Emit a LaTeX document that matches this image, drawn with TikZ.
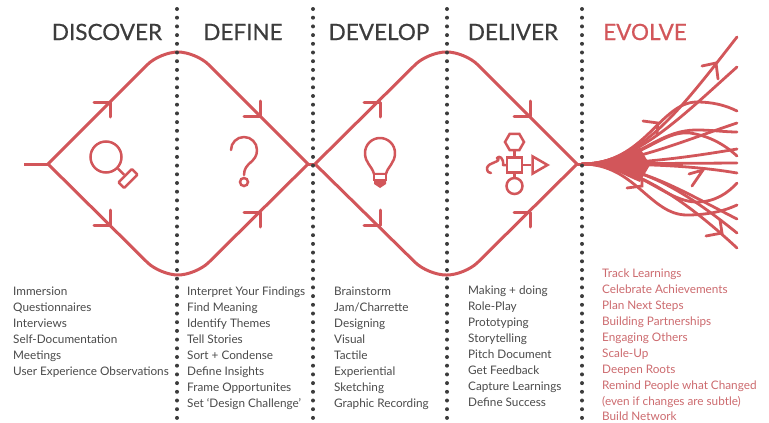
\documentclass[tikz,border=0pt]{standalone}
\usepackage{fontspec}
\setmainfont{Lato}
\newfontfamily\stagefont[FakeBold=0.5]{Lato}
\usepackage{tikz}
\usetikzlibrary{shapes.geometric}
\definecolor{flowred}{HTML}{D2565A}
\definecolor{listred}{HTML}{CC6A6E}
\definecolor{inkdark}{HTML}{3C3C3C}
\definecolor{inklist}{HTML}{4A4A4A}

\begin{document}
\begin{tikzpicture}
[x=1pt,y=-1pt]
\tikzset{
	flow/.style = {draw=flowred, line width=3pt, line join=round},
	icon/.style = {draw=flowred, line width=2.5pt, inner sep=0pt, fill=white},
	branch/.style = {draw=flowred, line width=2.8pt, line cap=round},
	divider/.style = {draw=inkdark, line width=4pt, line cap=round, dash pattern=on 0pt off 8.7pt},
	stage/.style = {text=inkdark, font=\stagefont\fontsize{22.5}{26}\selectfont},
	tasks/.style = {anchor=north west, align=left, inner sep=0pt, text=inklist, font=\fontsize{11.75}{15.9}\selectfont}
}
\useasboundingbox (0,0) rectangle (769,423);

% diamonds
\coordinate (start) at (24,164);
\coordinate (a) at (48,164);
\coordinate (b) at (308,164);
\coordinate (c) at (315,164);
\coordinate (d) at (577,164);
\coordinate (root) at (592,164);
\draw [flow] (start) -- (a);
\draw [flow] (b) -- (c);
\draw [flow] (d) -- (root);
\draw [flow, rounded corners=18pt] (a) -- (160,52) -- (196,52) -- (b);
\draw [flow, rounded corners=18pt] (a) -- (160,275) -- (196,275) -- (b);
\draw [flow, rounded corners=18pt] (c) -- (428,52) -- (465,52) -- (d);
\draw [flow, rounded corners=18pt] (c) -- (428,275) -- (465,275) -- (d);

% arrow heads on the diamonds and the fan
\foreach \x/\y/\h in {110/102/15, 260/116/-15, 110/225/-15, 260/212/15, 380/102/15, 530/116/-15, 380/225/-15, 530/212/15}
	\draw [flow, line cap=round] (\x-16,\y) -- (\x,\y) -- (\x,\y+\h);
\draw [branch] (702,66) -- (716,63) -- (718,79);
\draw [branch] (643,121) -- (658,123) -- (657,135);
\draw [branch] (627,188) -- (642,186) -- (642,180);
\draw [branch] (689,174) -- (703,170) -- (692,186);
\draw [branch] (706,236) -- (722,233) -- (720,220);

% fan
\coordinate (fan) at (582,164);
\fill [flowred] (590,163) .. controls (610,162) and (625,152) .. (640,148) -- (650,165) -- (640,182) .. controls (625,176) and (610,166) .. (590,165) -- cycle;
\draw [branch] (fan) .. controls (640,164) and (680,110) .. (737,37);
\draw [branch] (fan) .. controls (635,164) and (680,118) .. (737,67);
\draw [branch] (fan) .. controls (645,164) and (660,102) .. (697,102) .. controls (712,102) and (725,105) .. (737,111);
\draw [branch] (fan) .. controls (630,164) and (680,142) .. (737,123);
\draw [branch] (fan) .. controls (640,164) and (655,130) .. (697,130) .. controls (712,130) and (725,132) .. (737,132);
\draw [branch] (fan) .. controls (640,164) and (690,157) .. (737,149);
\draw [branch] (fan) .. controls (640,164) and (660,130) .. (690,133) .. controls (710,136) and (725,145) .. (737,156);
\draw [branch] (fan) -- (737,163);
\draw [branch] (fan) .. controls (640,164) and (690,165) .. (737,173);
\draw [branch] (fan) .. controls (640,164) and (665,202) .. (697,202) .. controls (715,202) and (728,193) .. (737,183);
\draw [branch] (fan) .. controls (635,164) and (650,215) .. (687,215) .. controls (705,215) and (722,212) .. (737,205);
\draw [branch] (fan) .. controls (640,164) and (680,190) .. (737,219);
\draw [branch] (fan) .. controls (635,164) and (675,183) .. (737,233);
\draw [branch] (fan) .. controls (630,164) and (680,195) .. (737,248);

% dotted dividers
\foreach \x in {177,313,447,582}
	\draw [divider] (\x,9) -- (\x,420);

% magnifier
\node (lens) [icon, circle, minimum size=31pt] at (106,157) {};
\node (grip) [icon, rectangle, rounded corners=1pt, minimum width=19pt, minimum height=8pt, rotate=45] at (128,178.5) {};
\draw [flow, line width=2.5pt] (lens) -- (grip);

% question mark
\node (dot) [icon, circle, minimum size=8pt] at (244,182) {};
\draw [flow, line width=2.5pt, line cap=round] (231,150) arc (-180:0:13) .. controls (257,163) and (244,162) .. (244,175);

% bulb
\draw [flow, line width=2.5pt] (374,174) .. controls (372,166) and (365,163) .. (365,153) arc (-180:0:15) .. controls (395,163) and (388,166) .. (386,174) -- cycle;
\node (socket) [icon, rectangle, minimum width=12pt, minimum height=6pt] at (380,177) {};
\fill [flowred] (374,180) -- (386,180) -- (386,184) -- (380,188) -- (374,184) -- cycle;

% process symbols
\node (box) [icon, rectangle, minimum size=15pt] at (514.5,165) {};
\node (hex) [icon, regular polygon, regular polygon sides=6, minimum size=19pt] at (514.5,142) {};
\node (disc) [icon, circle, minimum size=16pt] at (514.5,186) {};
\node (tri) [icon, regular polygon, regular polygon sides=3, shape border rotate=-90, minimum size=20pt] at (537.5,165) {};
\draw [flow, line width=2.5pt] (box) -- (hex);
\draw [flow, line width=2.5pt] (box) -- (disc);
\draw [flow, line width=2.5pt] (box) -- (tri);
\draw [flow, line width=2.5pt, line cap=round] (box.west) -- (503,165) .. controls (504,158) and (499,155) .. (497,158) .. controls (503,162) and (488,162) .. (487,168) .. controls (487,172) and (489,173) .. (491,173);

% headings
\node (discover) [stage] at (107,32) {DISCOVER};
\node (define) [stage] at (243,32) {DEFINE};
\node (develop) [stage] at (379,32) {DEVELOP};
\node (deliver) [stage] at (513,32) {DELIVER};
\node (evolve) [stage, text=flowred] at (645,32) {EVOLVE};

% lists
\node (list1) [tasks] at (13,287) {Immersion\\Questionnaires\\Interviews\\Self-Documentation\\Meetings\\User Experience Observations};
\node (list2) [tasks] at (187,287) {Interpret Your Findings\\Find Meaning\\Identify Themes\\Tell Stories\\Sort + Condense\\Define Insights\\Frame Opportunites\\Set ‘Design Challenge’};
\node (list3) [tasks] at (334,287) {Brainstorm\\Jam/Charrette\\Designing\\Visual\\Tactile\\Experiential\\Sketching\\Graphic Recording};
\node (list4) [tasks] at (468,286) {Making + doing\\Role-Play\\Prototyping\\Storytelling\\Pitch Document\\Get Feedback\\Capture Learnings\\Define Success};
\node (list5) [tasks, text=listred] at (602,269) {Track Learnings\\Celebrate Achievements\\Plan Next Steps\\Building Partnerships\\Engaging Others\\Scale-Up\\Deepen Roots\\Remind People what Changed\\(even if changes are subtle)\\Build Network};

\end{tikzpicture}
\end{document}
